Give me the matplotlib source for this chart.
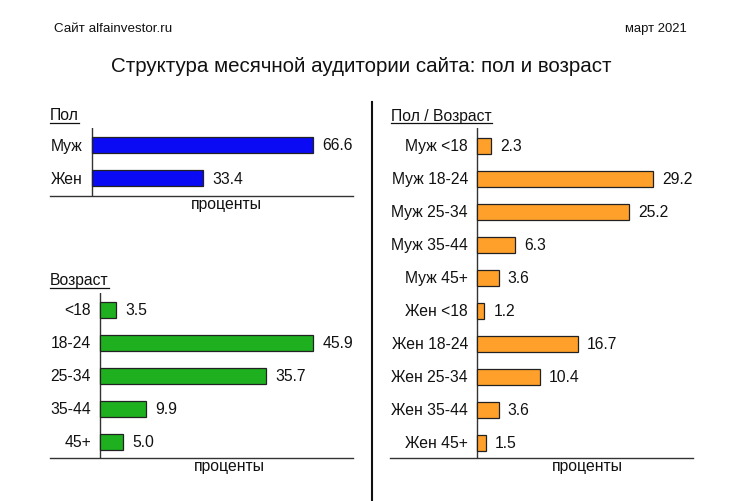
import matplotlib
matplotlib.use("Agg")
import matplotlib.pyplot as plt
from matplotlib.lines import Line2D

plt.rcParams['font.family'] = ['Liberation Sans', 'DejaVu Sans']

# ---- data ----
sex_labels = ["Муж", "Жен"]
sex_values = [66.6, 33.4]

age_labels = ["<18", "18-24", "25-34", "35-44", "45+"]
age_values = [3.5, 45.9, 35.7, 9.9, 5.0]

sexage_labels = ["Муж <18", "Муж 18-24", "Муж 25-34", "Муж 35-44", "Муж 45+",
                 "Жен <18", "Жен 18-24", "Жен 25-34", "Жен 35-44", "Жен 45+"]
sexage_values = [2.3, 29.2, 25.2, 6.3, 3.6, 1.2, 16.7, 10.4, 3.6, 1.5]

W, H = 740, 502
FS = 11.3
fig = plt.figure(figsize=(W / 100, H / 100), dpi=100)
fig.patch.set_facecolor("white")


def px_axes(x0, x1, ytop, ybot):
    return fig.add_axes([x0 / W, 1 - ybot / H, (x1 - x0) / W, (ybot - ytop) / H])


def panel(ax, labels, values, color, xlim, ylim, fs=FS):
    ypos = list(range(len(values)))
    ax.barh(ypos, values, height=0.49, color=color, edgecolor="#222222", linewidth=0.9, zorder=3)
    ax.set_xlim(*xlim)
    ax.set_ylim(*ylim)
    for s in ["top", "right", "left"]:
        ax.spines[s].set_visible(False)
    ax.spines["bottom"].set_color("#333333")
    ax.spines["bottom"].set_linewidth(1.0)
    ax.axvline(0, color="#333333", lw=1.0, zorder=2)
    ax.set_xticks([])
    ax.set_yticks([])
    for y, lab, v in zip(ypos, labels, values):
        ax.annotate(lab, xy=(0, y), xytext=(-6.5, 0), textcoords="offset points",
                    ha="right", va="center", fontsize=fs, color="#111111")
        ax.annotate(f"{v:.1f}", xy=(v, y), xytext=(6.5, 0), textcoords="offset points",
                    ha="left", va="center", fontsize=fs, color="#111111")
    ax.patch.set_alpha(0)


# Panel 1: sex
ax1 = px_axes(50, 353, 129, 197)
panel(ax1, sex_labels, sex_values, "#0a0af5", (-42 / 3.32, 261 / 3.32), (1.545, -0.515))

# Panel 2: age
ax2 = px_axes(50, 353, 294, 459)
panel(ax2, age_labels, age_values, "#1eb01e", (-50 / 4.645, 253 / 4.645), (4.485, -0.515))

# Panel 3: sex/age
ax3 = px_axes(390, 693, 129, 459)
panel(ax3, sexage_labels, sexage_values, "#ffa02a", (-87 / 6.04, 216 / 6.04), (9.455, -0.545))


def ftxt(x, y, s, **kw):
    return fig.text(x / W, 1 - y / H, s, **kw)


# header texts
ftxt(54, 29, "Сайт alfainvestor.ru", fontsize=9.6, ha="left", va="center", color="#111111")
ftxt(687, 29, "март 2021", fontsize=9.4, ha="right", va="center", color="#111111")
ftxt(361, 67, "Структура месячной аудитории сайта: пол и возраст", fontsize=14.8,
     ha="center", va="center", color="#111111")

# x-axis captions
for x, y in [(226, 205), (229, 467), (587, 467)]:
    ftxt(x, y, "проценты", fontsize=FS, ha="center", va="center", color="#111111")

# panel headings (underlined)
headings = []
for x, y, s in [(50, 116, "Пол"), (50, 281, "Возраст"), (391, 116, "Пол / Возраст")]:
    headings.append((ftxt(x, y, s, fontsize=FS, ha="left", va="center", color="#111111"), y))

fig.canvas.draw()
r = fig.canvas.get_renderer()
for t, y in headings:
    bb = t.get_window_extent(renderer=r)
    yl = (bb.y0 - 0.5) / H
    fig.add_artist(Line2D([bb.x0 / W, bb.x1 / W], [yl, yl], color="#111111", lw=0.9))

# divider
fig.add_artist(Line2D([372 / W, 372 / W], [1 - 103 / H, 0], color="#111111", lw=1.5))

fig.savefig("out.png", dpi=100, facecolor="white")
